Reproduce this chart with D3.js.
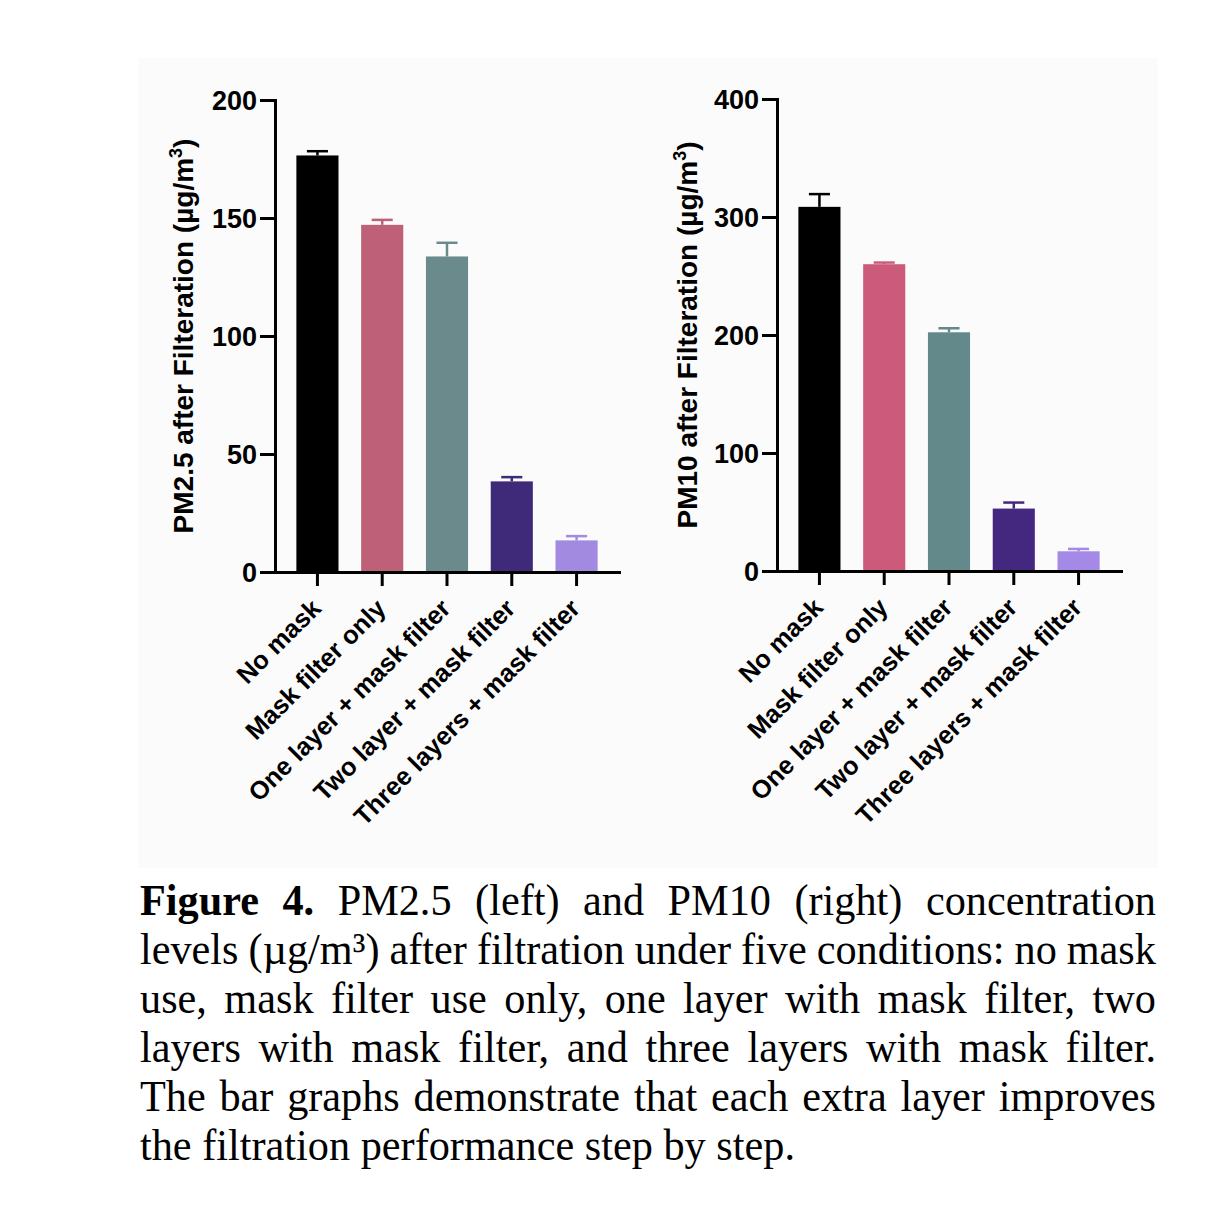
<!DOCTYPE html>
<html>
<head>
<meta charset="utf-8">
<script src="https://cdn.jsdelivr.net/npm/d3@7"></script>
<style>
body { margin: 0; background: #fff; }
</style>
</head>
<body>
<div id="vis"></div>
<script>
const categories = ["No mask", "Mask filter only", "One layer + mask filter", "Two layer + mask filter", "Three layers + mask filter"];

const pm25Mean = [176.5, 147.1, 133.7, 38.4, 13.4];
const pm25Err = [1.8, 2.1, 5.8, 1.8, 1.8];
const pm25Ticks = [0, 50, 100, 150, 200];
const pm25Colors = ["#000000", "#bd6078", "#6b8a8b", "#3f2a7a", "#a18ae0"];

const pm10Mean = [308.6, 260.0, 202.3, 52.9, 16.7];
const pm10Err = [10.8, 1.4, 3.4, 5.1, 2.0];
const pm10Ticks = [0, 100, 200, 300, 400];
const pm10Colors = ["#000000", "#cc5b7b", "#63898a", "#44287f", "#a489e6"];

const captionLines = [
    "Figure 4. PM2.5 (left) and PM10 (right) concentration",
    "levels (\u00b5g/m\u00b3) after filtration under five conditions: no mask",
    "use, mask filter use only, one layer with mask filter, two",
    "layers with mask filter, and three layers with mask filter.",
    "The bar graphs demonstrate that each extra layer improves",
    "the filtration performance step by step."
];
const captionBoldWords = 2;

const W = 1226, H = 1230;
const sans = "'Liberation Sans', Arial, Helvetica, sans-serif";

const svg = d3.select("#vis").append("svg")
    .attr("width", W)
    .attr("height", H)
    .style("display", "block");

svg.append("rect").attr("width", W).attr("height", H).attr("fill", "#fff");
// faint figure panel
svg.append("rect")
    .attr("x", 138).attr("y", 58)
    .attr("width", 1020).attr("height", 810)
    .attr("fill", "#fbfbfb");

function drawPanel(p) {
    const g = svg.append("g");

    const x = d3.scaleBand()
        .domain(categories)
        .range([p.left, p.right])
        .paddingInner(0.35)
        .paddingOuter(0.33);

    const y = d3.scaleLinear()
        .domain([0, p.max])
        .range([p.bottom, p.top]);

    const rows = categories.map((c, i) => ({ cat: c, mean: p.mean[i], err: p.err[i], color: p.colors[i] }));

    // error bars (upper only)
    const eb = g.append("g").attr("stroke-width", 2.5).attr("fill", "none");
    eb.selectAll("line.v")
        .data(rows)
        .join("line")
        .attr("class", "v")
        .attr("stroke", d => d.color)
        .attr("x1", d => x(d.cat) + x.bandwidth() / 2)
        .attr("x2", d => x(d.cat) + x.bandwidth() / 2)
        .attr("y1", d => y(d.mean))
        .attr("y2", d => y(d.mean + d.err));
    eb.selectAll("line.c")
        .data(rows)
        .join("line")
        .attr("class", "c")
        .attr("stroke", d => d.color)
        .attr("x1", d => x(d.cat) + x.bandwidth() / 2 - x.bandwidth() / 4)
        .attr("x2", d => x(d.cat) + x.bandwidth() / 2 + x.bandwidth() / 4)
        .attr("y1", d => y(d.mean + d.err))
        .attr("y2", d => y(d.mean + d.err));

    g.append("g").selectAll("rect")
        .data(rows)
        .join("rect")
        .attr("x", d => x(d.cat))
        .attr("y", d => y(d.mean))
        .attr("width", x.bandwidth())
        .attr("height", d => y(0) - y(d.mean))
        .attr("fill", d => d.color);

    // y axis
    const yAxis = g.append("g")
        .attr("transform", `translate(${p.left},0)`)
        .call(d3.axisLeft(y).tickValues(p.ticks).tickSize(15).tickSizeOuter(0).tickPadding(3));
    yAxis.select(".domain").attr("stroke", "#000").attr("stroke-width", 3).attr("stroke-linecap", "square");
    yAxis.selectAll(".tick line").attr("stroke", "#000").attr("stroke-width", 3);
    yAxis.selectAll(".tick text")
        .attr("fill", "#000")
        .attr("font-family", sans)
        .attr("font-weight", "bold")
        .attr("font-size", 27)
        .attr("dy", "0.36em");

    // x axis
    const xAxis = g.append("g")
        .attr("transform", `translate(0,${p.bottom})`)
        .call(d3.axisBottom(x).tickSize(14).tickSizeOuter(0).tickFormat(""));
    xAxis.select(".domain").attr("stroke", "#000").attr("stroke-width", 3).attr("stroke-linecap", "square");
    xAxis.selectAll(".tick line").attr("stroke", "#000").attr("stroke-width", 3);
    xAxis.selectAll(".tick text").remove();

    g.append("g").selectAll("text")
        .data(categories)
        .join("text")
        .attr("transform", d => `translate(${x(d) + x.bandwidth() / 2 + 5},${p.bottom + 38}) rotate(-45)`)
        .attr("text-anchor", "end")
        .attr("font-family", sans)
        .attr("font-weight", "bold")
        .attr("font-size", 25.5)
        .attr("fill", "#000")
        .text(d => d);

    // y title
    const t = g.append("text")
        .attr("transform", `translate(${p.titleX},${(p.top + p.bottom) / 2}) rotate(-90)`)
        .attr("text-anchor", "middle")
        .attr("font-family", sans)
        .attr("font-weight", "bold")
        .attr("font-size", 28)
        .attr("fill", "#000");
    t.append("tspan").text(p.title + " (\u00b5g/m");
    t.append("tspan").attr("font-size", 18).attr("dy", -11).text("3");
    t.append("tspan").attr("dy", 11).text(")");
}

drawPanel({
    left: 275, right: 619, top: 100, bottom: 572, max: 200,
    mean: pm25Mean, err: pm25Err, ticks: pm25Ticks, colors: pm25Colors,
    title: "PM2.5 after Filteration", titleX: 193
});

drawPanel({
    left: 777, right: 1121, top: 99, bottom: 571, max: 400,
    mean: pm10Mean, err: pm10Err, ticks: pm10Ticks, colors: pm10Colors,
    title: "PM10 after Filteration", titleX: 697
});

// caption, justified
const capLeft = 140, capRight = 1156, capTop = 915, capStep = 49, lastLineWidth = 655;
const cap = svg.append("g")
    .attr("font-family", "'Liberation Serif', 'Times New Roman', serif")
    .attr("font-size", 44)
    .attr("fill", "#000");

const probe = cap.append("text").attr("x", -1000).attr("y", -1000);
function measure(s, bold) {
    probe.attr("font-weight", bold ? "bold" : "normal").text(s);
    return probe.node().getComputedTextLength();
}
const spaceW = measure("a a", false) - measure("aa", false);

const lineWords = captionLines.map((line, li) =>
    line.split(" ").map((w, wi) => ({ w, bold: li === 0 && wi < captionBoldWords })));
lineWords.forEach(ws => ws.forEach(d => d.width = measure(d.w, d.bold)));

const lastWs = lineWords[lineWords.length - 1];
const lastNatural = d3.sum(lastWs, d => d.width) + spaceW * (lastWs.length - 1);
const sx = lastLineWidth / lastNatural;
probe.remove();

lineWords.forEach((ws, li) => {
    const isLast = li === lineWords.length - 1;
    const avail = (capRight - capLeft) / sx;
    const gap = isLast ? spaceW : (avail - d3.sum(ws, d => d.width)) / (ws.length - 1);
    let pos = 0;
    ws.forEach(d => { d.pos = pos; pos += d.width + gap; });
    cap.append("g")
        .attr("transform", `translate(${capLeft},${capTop + li * capStep}) scale(${sx},1)`)
        .selectAll("text")
        .data(ws)
        .join("text")
        .attr("x", d => d.pos)
        .attr("font-weight", d => d.bold ? "bold" : "normal")
        .text(d => d.w);
});
</script>
</body>
</html>
